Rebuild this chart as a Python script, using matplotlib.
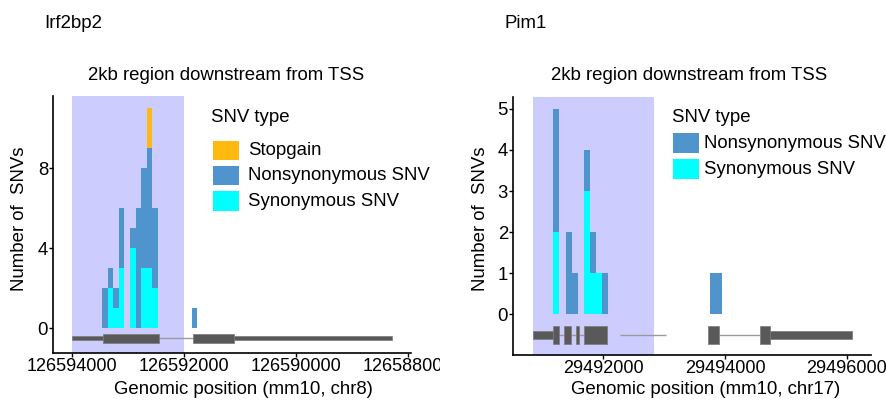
import matplotlib
matplotlib.use("Agg")
import matplotlib.pyplot as plt
from matplotlib.patches import Rectangle
from matplotlib.transforms import Bbox, TransformedBbox

plt.rcParams['font.family'] = ['Liberation Sans', 'DejaVu Sans']
plt.rcParams['font.size'] = 13.4
plt.rcParams['xtick.labelsize'] = 13.0
plt.rcParams['ytick.labelsize'] = 13.4

# SNV type colours
type_names = ['Stopgain', 'Nonsynonymous SNV', 'Synonymous SNV']
type_colors = ['#FFB90F', '#4F94CD', '#00FFFF']

# Irf2bp2 (minus strand, 100 bp bins, lower edge of each bin)
irf_bins = [126593360, 126593260, 126593160, 126593060, 126592860,
            126592760, 126592660, 126592560, 126592460, 126591760]
irf_syn = [0, 2, 1, 3, 4, 0, 3, 3, 2, 0]
irf_nonsyn = [2, 1, 1, 3, 1, 6, 5, 6, 4, 1]
irf_stop = [0, 0, 0, 0, 0, 0, 0, 2, 0, 0]
irf_region = (126592000, 126594000)
irf_utr = [(126593437, 126594000), (126588294, 126591101)]
irf_cds = [(126592443, 126593437), (126591101, 126591832)]
irf_intron = [(126591832, 126592443)]
irf_ticks = [126594000, 126592000, 126590000, 126588000]

# Pim1 (plus strand)
pim_bins = [29491180, 29491380, 29491480, 29491680, 29491780,
            29491880, 29491980, 29493750, 29493850]
pim_syn = [2, 0, 0, 3, 1, 1, 0, 0, 0]
pim_nonsyn = [3, 2, 1, 1, 1, 0, 1, 1, 1]
pim_region = (29490840, 29492840)
pim_utr = [(29490850, 29491178), (29494739, 29496091)]
pim_cds = [(29491178, 29491267), (29491359, 29491464), (29491551, 29491601),
           (29491688, 29492056), (29493725, 29493901), (29494575, 29494739)]
pim_intron = [(29491267, 29491359), (29491464, 29491551), (29491601, 29491688),
              (29492274, 29493030), (29493901, 29494575)]
pim_ticks = [29492000, 29494000, 29496000]

W, H = 886, 401
fig = plt.figure(figsize=(W / 100, H / 100), dpi=100)


def fx(px):
    return px / W


def fy(py):
    return 1 - py / H


def panel(rect, xlim, ylim, yticks):
    ax = fig.add_axes(rect)
    ax.set_xlim(*xlim)
    ax.set_ylim(*ylim)
    for s in ['top', 'right']:
        ax.spines[s].set_visible(False)
    for s in ['left', 'bottom']:
        ax.spines[s].set_linewidth(1.2)
    ax.tick_params(direction='out', length=3, width=1, pad=0.8)
    ax.tick_params(axis='x', pad=0.5)
    ax.set_yticks(yticks)
    ax.set_yticklabels([str(t) for t in yticks])
    return ax


def draw_gene(ax, utr, cds, intron, y=-0.5):
    for a, b in intron:
        ax.hlines(y, a, b, color='#9a9a9a', lw=1, zorder=2)
    ax.broken_barh([(a, b - a) for a, b in utr], (y - 0.1, 0.2),
                   facecolor='#595959', edgecolor='#7a7a7a', lw=0.5, zorder=3)
    ax.broken_barh([(a, b - a) for a, b in cds], (y - 0.22, 0.44),
                   facecolor='#595959', edgecolor='#7a7a7a', lw=0.5, zorder=3)


def draw_bars(ax, bins, syn, nonsyn, stop=None):
    bottom = [0] * len(bins)
    layers = [(syn, type_colors[2]), (nonsyn, type_colors[1])]
    if stop is not None:
        layers.append((stop, type_colors[0]))
    for vals, col in layers:
        keep = [i for i, v in enumerate(vals) if v > 0]
        ax.bar([bins[i] for i in keep], [vals[i] for i in keep], width=100,
               bottom=[bottom[i] for i in keep], align='edge', color=col,
               lw=0, zorder=4)
        bottom = [b + v for b, v in zip(bottom, vals)]


# left panel: Irf2bp2
ax1 = panel([fx(53.3), fy(353.3), fx(411 - 53.3), (353.3 - 96) / H],
            (126594328, 126587950), (-1.25, 11.6), [0, 4, 8])
ax1.axvspan(*irf_region, color='#CCCCFF', zorder=0, lw=0)
draw_bars(ax1, irf_bins, irf_syn, irf_nonsyn, irf_stop)
draw_gene(ax1, irf_utr, irf_cds, irf_intron)
ax1.set_xticks(irf_ticks)
ax1.set_xticklabels([str(t) for t in irf_ticks])
clip = TransformedBbox(Bbox([[0, 0], [fx(440), 1]]), fig.transFigure)
for lab in ax1.get_xticklabels():
    lab.set_clip_box(clip)
    lab.set_clip_on(True)

# right panel: Pim1
ax2 = panel([fx(513.3), fy(355), fx(870.7 - 513.3), (355 - 97) / H],
            (29490521, 29496393), (-0.99, 5.29), [0, 1, 2, 3, 4, 5])
ax2.axvspan(*pim_region, color='#CCCCFF', zorder=0, lw=0)
draw_bars(ax2, pim_bins, pim_syn, pim_nonsyn)
draw_gene(ax2, pim_utr, pim_cds, pim_intron)
ax2.set_xticks(pim_ticks)
ax2.set_xticklabels([str(t) for t in pim_ticks])

# texts
fig.text(fx(44), fy(23), 'Irf2bp2', ha='left', va='center')
fig.text(fx(505), fy(23), 'Pim1', ha='left', va='center')
fig.text(fx(226.5), fy(76), '2kb region downstream from TSS', ha='center', va='center')
fig.text(fx(689), fy(76), '2kb region downstream from TSS', ha='center', va='center')
fig.text(fx(20), fy(218.5), 'Number of  SNVs', rotation=90, ha='center', va='center')
fig.text(fx(480), fy(218.5), 'Number of  SNVs', rotation=90, ha='center', va='center')
fig.text(fx(243.5), fy(390), 'Genomic position (mm10, chr8)', ha='center', va='center')
fig.text(fx(706), fy(390), 'Genomic position (mm10, chr17)', ha='center', va='center')


# legends
def legend(x_title, x_key, x_lab, rows, names, colors):
    fig.text(fx(x_title), fy(118), 'SNV type', ha='left', va='center')
    for (top, bot), name, col in zip(rows, names, colors):
        fig.add_artist(Rectangle((fx(x_key), fy(bot)), fx(26.3), (bot - top) / H,
                                 transform=fig.transFigure, facecolor=col, edgecolor='none'))
        fig.text(fx(x_lab), fy((top + bot) / 2), name, ha='left', va='center')


legend(210.7, 212.7, 248, [(141, 160), (166, 185), (191, 211)], type_names, type_colors)
legend(672, 673, 704, [(133, 153), (159, 179)], type_names[1:], type_colors[1:])

fig.savefig('out.png', dpi=100)
